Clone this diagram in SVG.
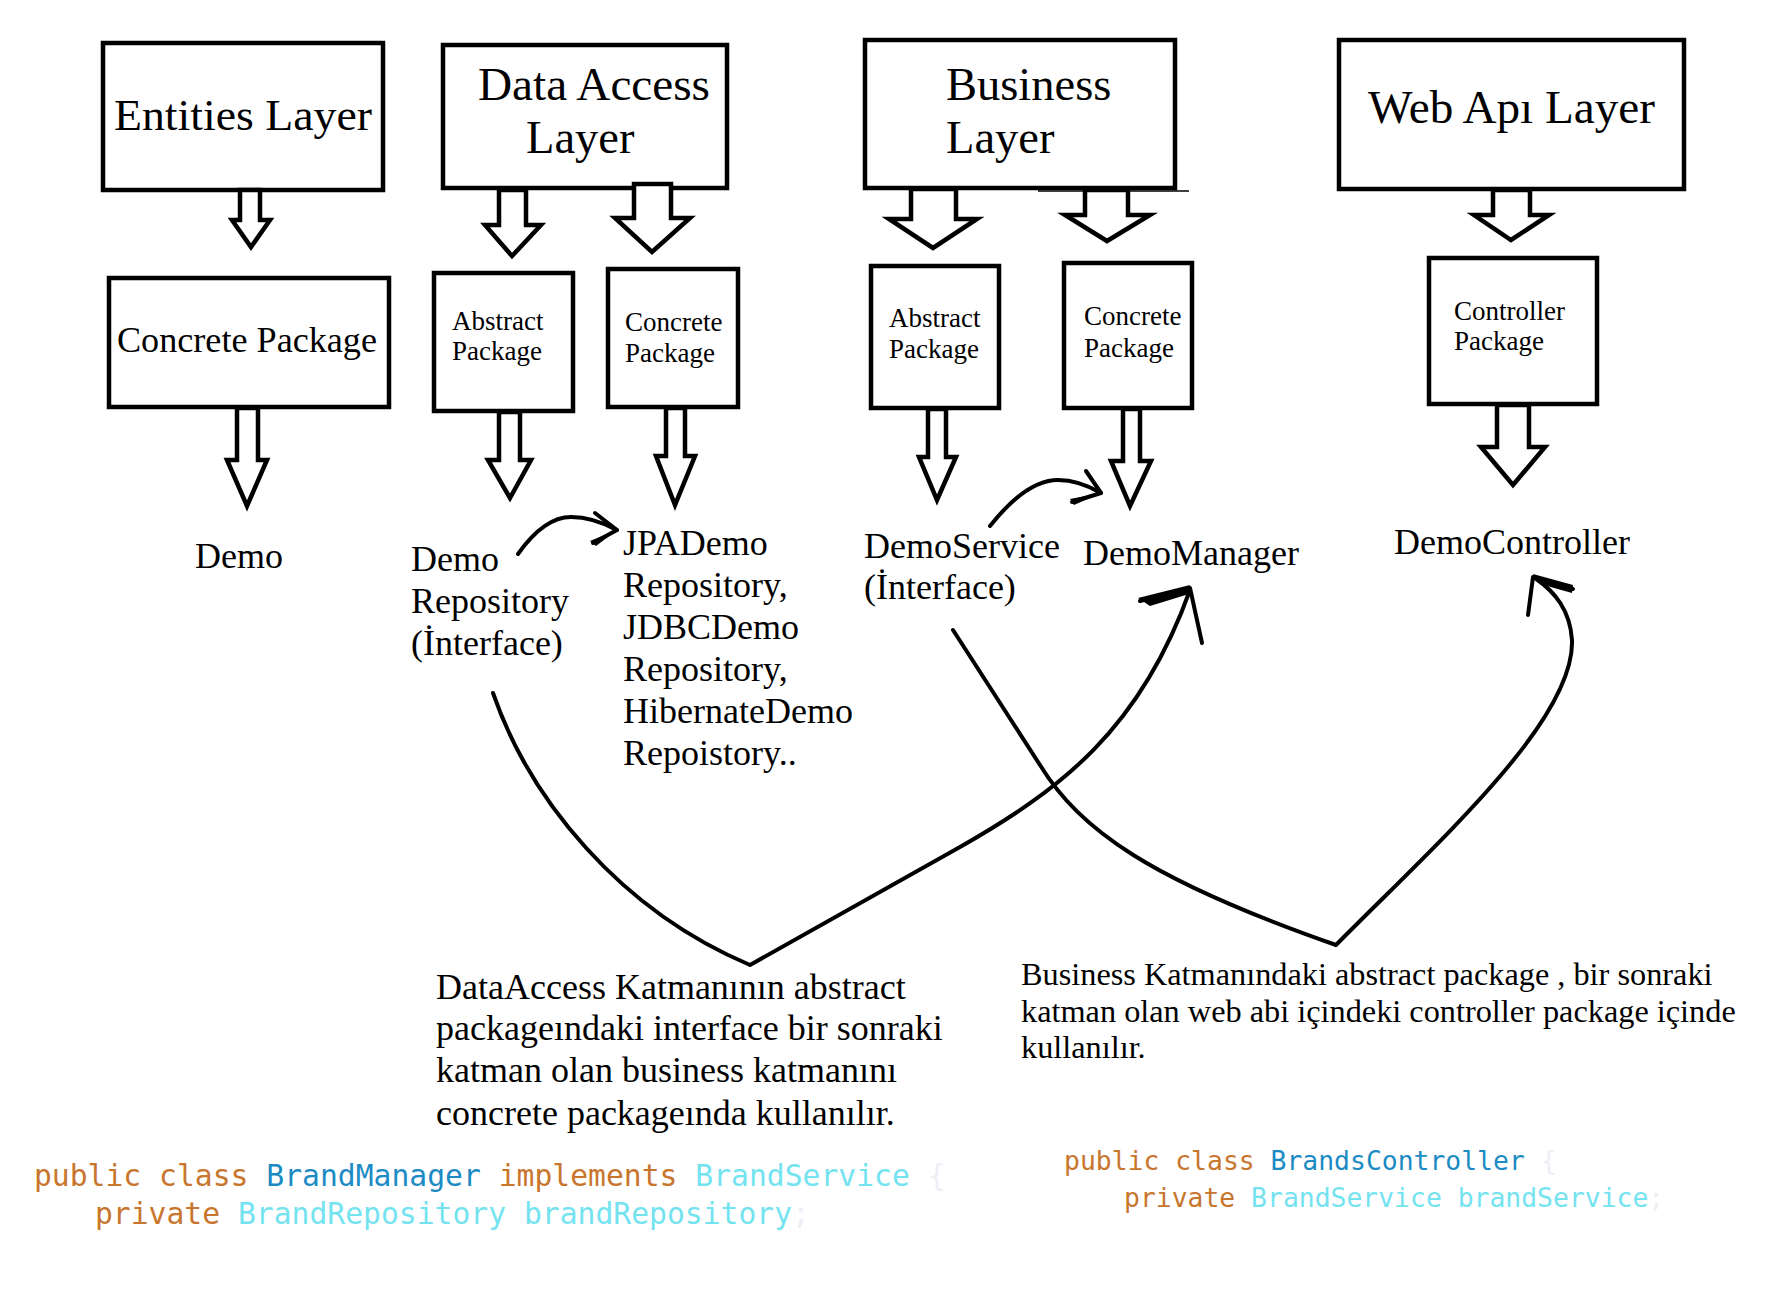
<svg xmlns="http://www.w3.org/2000/svg" width="1768" height="1294" viewBox="0 0 1768 1294">
<style>
.box{fill:#fff;stroke:#000;stroke-width:4.5}
.blk{fill:#fff;stroke:#000;stroke-width:4.5;stroke-linejoin:miter}
.t{font-family:"Liberation Serif","Times New Roman",serif;fill:#000}
.h{font-size:46.5px}
.m{font-size:36px}
.s{font-size:27px}
.p{font-size:32.3px}
.curve{fill:none;stroke:#000;stroke-width:4;stroke-linecap:round;stroke-linejoin:round}
.code{font-family:"DejaVu Sans Mono","Liberation Mono",monospace}
.kw{fill:#C8762E}
.cls{fill:#1C8BC4}
.typ{fill:#74E3F0}
.faint{fill:#EEEEF6}
</style>
<rect width="1768" height="1294" fill="#fff"/>

<g id="entities-layer">
<rect class="box" x="103" y="43" width="280" height="147"/>
<text class="t" x="114" y="130" font-size="44.5" textLength="258" lengthAdjust="spacingAndGlyphs">Entities Layer</text>
</g>
<g id="data-access-layer">
<rect class="box" x="443" y="45" width="284" height="143"/>
<text class="t h" x="478" y="100" textLength="232" lengthAdjust="spacingAndGlyphs">Data Access</text>
<text class="t h" x="526" y="153">Layer</text>
</g>
<g id="business-layer">
<rect class="box" x="865" y="40" width="310" height="148"/>
<line x1="1038" y1="191" x2="1189" y2="191" stroke="#000" stroke-width="1.5"/>
<text class="t h" x="946" y="100">Business</text>
<text class="t h" x="946" y="153">Layer</text>
</g>
<g id="web-api-layer">
<rect class="box" x="1339" y="40" width="345" height="149"/>
<text class="t h" x="1368" y="123" textLength="287" lengthAdjust="spacingAndGlyphs">Web Apı Layer</text>
</g>

<g id="entities-concrete">
<rect class="box" x="109" y="278" width="280" height="129"/>
<text class="t m" x="117" y="352" textLength="260" lengthAdjust="spacingAndGlyphs">Concrete Package</text>
</g>
<g id="da-abstract">
<rect class="box" x="434" y="273" width="139" height="138"/>
<text class="t s" x="452" y="330">Abstract</text>
<text class="t s" x="452" y="360">Package</text>
</g>
<g id="da-concrete">
<rect class="box" x="608" y="269" width="130" height="138"/>
<text class="t s" x="625" y="331">Concrete</text>
<text class="t s" x="625" y="362">Package</text>
</g>
<g id="bus-abstract">
<rect class="box" x="871" y="266" width="128" height="142"/>
<text class="t s" x="889" y="327">Abstract</text>
<text class="t s" x="889" y="358">Package</text>
</g>
<g id="bus-concrete">
<rect class="box" x="1064" y="263" width="128" height="145"/>
<text class="t s" x="1084" y="325">Concrete</text>
<text class="t s" x="1084" y="357">Package</text>
</g>
<g id="controller-package">
<rect class="box" x="1429" y="258" width="168" height="146"/>
<text class="t s" x="1454" y="320">Controller</text>
<text class="t s" x="1454" y="350">Package</text>
</g>

<g id="demo">
<text class="t m" x="195" y="568">Demo</text>
</g>
<g id="demo-repository">
<text class="t m" x="411" y="571">Demo</text>
<text class="t m" x="411" y="613">Repository</text>
<text class="t m" x="411" y="655">(İnterface)</text>
</g>
<g id="jpa-demo">
<text class="t m" x="623" y="555">JPADemo</text>
<text class="t m" x="623" y="597">Repository,</text>
<text class="t m" x="623" y="639">JDBCDemo</text>
<text class="t m" x="623" y="681">Repository,</text>
<text class="t m" x="623" y="723">HibernateDemo</text>
<text class="t m" x="623" y="765">Repoistory..</text>
</g>
<g id="demo-service">
<text class="t m" x="864" y="558">DemoService</text>
<text class="t m" x="864" y="599">(İnterface)</text>
</g>
<g id="demo-manager">
<text class="t m" x="1083" y="565">DemoManager</text>
</g>
<g id="demo-controller">
<text class="t m" x="1394" y="554">DemoController</text>
</g>

<g id="note-dataaccess">
<text class="t m" x="436" y="999">DataAccess Katmanının abstract</text>
<text class="t m" x="436" y="1040">packageındaki interface bir sonraki</text>
<text class="t m" x="436" y="1082">katman olan business katmanını</text>
<text class="t m" x="436" y="1125">concrete packageında kullanılır.</text>
</g>
<g id="note-business">
<text class="t p" x="1021" y="985">Business Katmanındaki abstract package , bir sonraki</text>
<text class="t p" x="1021" y="1022">katman olan web abi içindeki controller package içinde</text>
<text class="t p" x="1021" y="1058">kullanılır.</text>
</g>

<g id="code-left" class="code" font-size="29.7px">
<text x="34" y="1186"><tspan class="kw">public class </tspan><tspan class="cls">BrandManager </tspan><tspan class="kw">implements </tspan><tspan class="typ">BrandService </tspan><tspan class="faint">{</tspan></text>
<text x="95" y="1224"><tspan class="kw">private </tspan><tspan class="typ">BrandRepository brandRepository</tspan><tspan class="faint">;</tspan></text>
</g>
<g id="code-right" class="code" font-size="26.4px">
<text x="1064" y="1170"><tspan class="kw">public class </tspan><tspan class="cls">BrandsController </tspan><tspan class="faint">{</tspan></text>
<text x="1124" y="1207"><tspan class="kw">private </tspan><tspan class="typ">BrandService brandService</tspan><tspan class="faint">;</tspan></text>
</g>

<g id="connectors">
<path class="blk" d="M240,190 V220 H232 L251,247 L270,220 H260 V190 Z"/>
<path class="blk" d="M499,190 V225 H485 L512,256 L541,225 H526 V190 Z"/>
<path class="blk" d="M634,184 V218 H615 L652,252 L690,218 H671 V184 Z"/>
<path class="blk" d="M911,189 V219 H889 L933,248 L977,219 H956 V189 Z"/>
<path class="blk" d="M1085,190 V215 H1065 L1107,241 L1150,215 H1128 V190 Z"/>
<path class="blk" d="M1493,190 V215 H1474 L1511,240 L1549,215 H1530 V190 Z"/>

<path class="blk" d="M237,408 V460 H227 L247,506 L267,460 H258 V408 Z"/>
<path class="blk" d="M499,412 V460 H488 L510,498 L531,460 H520 V412 Z"/>
<path class="blk" d="M666,408 V456 H656 L675,505 L695,456 H685 V408 Z"/>
<path class="blk" d="M928,409 V457 H919 L937,500 L956,457 H946 V409 Z"/>
<path class="blk" d="M1123,409 V461 H1111 L1130,506 L1151,461 H1140 V409 Z"/>
<path class="blk" d="M1497,405 V447 H1481 L1513,485 L1545,447 H1529 V405 Z"/>

<path class="curve" d="M518,554 C535,530 552,517 571,517 C588,517 604,523 617,530"/>
<path class="curve" d="M595,513 L617,530 L593,543"/>
<path d="M617,530 L590,541 L596,546 Z" fill="#000"/>

<path class="curve" d="M990,526 C1013,497 1035,480 1058,480 C1075,480 1089,486 1101,493"/>
<path class="curve" d="M1086,471 L1101,493 L1072,502"/>
<path d="M1101,493 L1070,499 L1074,505 Z" fill="#000"/>

<path class="curve" d="M493,693 C530,800 620,910 750,965 L960,847 C1060,790 1140,730 1190,590"/>
<path class="curve" d="M1140,601 L1190,588 L1202,643"/>
<path d="M1138,598 L1190,585 L1189,594 L1150,606 Z" fill="#000"/>

<path class="curve" d="M953,630 L1040,765 C1080,830 1150,880 1336,945 C1440,840 1575,720 1572,640 C1570,610 1555,592 1535,578"/>
<path class="curve" d="M1528,615 L1533,577 L1573,589"/>
<path d="M1533,574 L1573,585 L1572,593 L1540,584 Z" fill="#000"/>
</g>
</svg>
